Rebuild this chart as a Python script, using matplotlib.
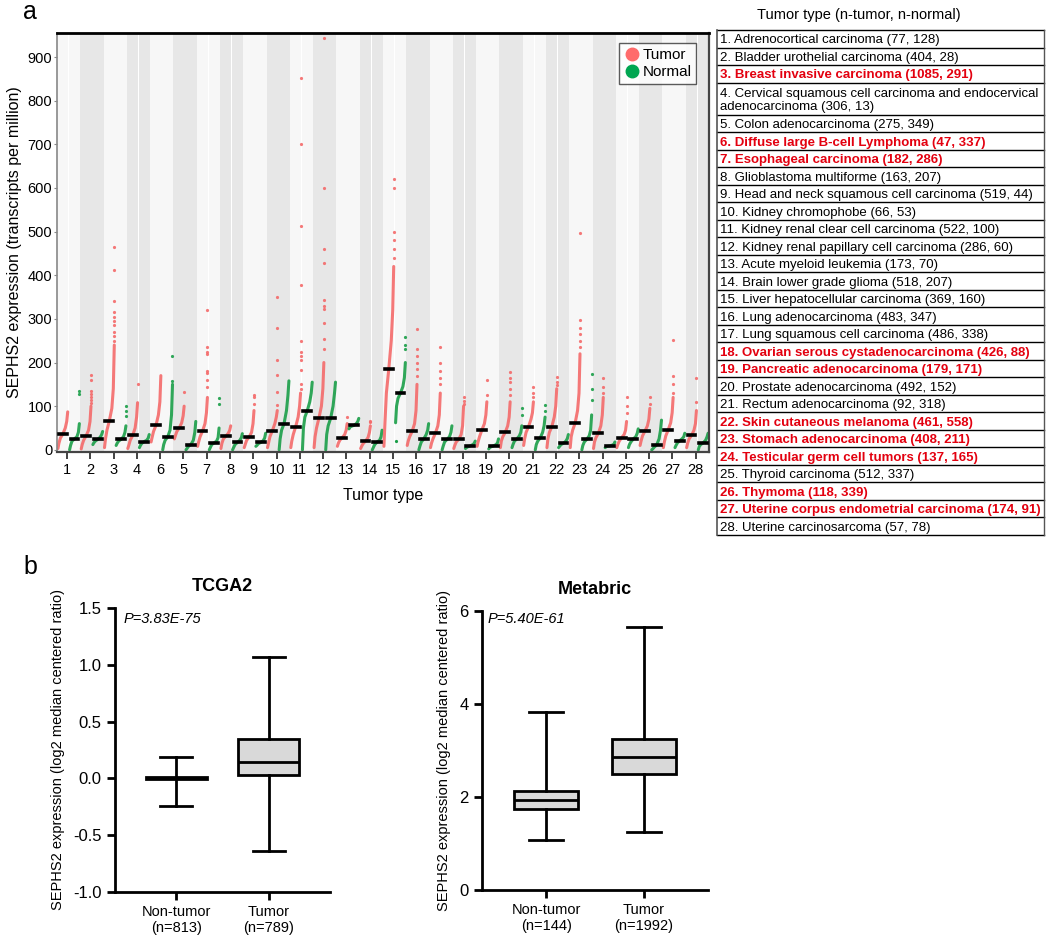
import matplotlib
matplotlib.use("Agg")
import matplotlib.pyplot as plt
from matplotlib.lines import Line2D
import numpy as np

plt.rcParams['font.family'] = ['Liberation Sans', 'DejaVu Sans']

# ---------------- panel a data ----------------
tick_labels = ["1", "2", "3", "4", "6", "5", "7", "8", "9", "10", "11", "12", "13", "14",
               "15", "16", "17", "18", "19", "20", "21", "22", "23", "24", "25", "26", "27", "28"]

# value of the sorted curve at these fractions of each column
levels = [0, 0.1, 0.25, 0.5, 0.75, 0.9, 1.0]

tumor_body = [
    [3, 15, 27, 36, 50, 65, 87], [2, 12, 22, 32, 45, 65, 100], [5, 25, 45, 67, 95, 140, 240],
    [3, 10, 22, 33, 50, 75, 108], [18, 28, 42, 56, 80, 110, 170], [25, 32, 42, 50, 62, 78, 100],
    [8, 18, 30, 43, 60, 85, 120], [3, 15, 25, 31, 38, 45, 55], [5, 12, 22, 29, 40, 60, 90],
    [5, 15, 30, 44, 60, 75, 90], [5, 20, 35, 53, 75, 100, 130], [5, 30, 50, 73, 100, 140, 200],
    [8, 15, 22, 28, 35, 45, 60], [3, 8, 14, 20, 28, 40, 55], [8, 60, 130, 186, 250, 320, 420],
    [10, 20, 30, 42, 60, 90, 150], [5, 15, 25, 38, 55, 80, 130], [3, 10, 18, 24, 35, 55, 100],
    [8, 18, 30, 46, 60, 80, 110], [5, 20, 30, 40, 55, 75, 110], [10, 25, 40, 53, 70, 85, 110],
    [5, 25, 40, 53, 75, 100, 140], [5, 30, 45, 61, 90, 130, 220], [3, 18, 28, 38, 55, 80, 120],
    [5, 12, 20, 28, 35, 45, 65], [10, 20, 32, 43, 55, 70, 95], [5, 18, 32, 46, 62, 85, 120],
    [5, 15, 25, 33, 45, 60, 90],
]
tumor_tail = [
    [], [108, 115, 122, 128, 134, 160, 172], [250, 260, 270, 285, 295, 305, 315, 340, 413, 464],
    [150], [], [132], [145, 160, 175, 180, 220, 225, 235, 320], [], [105, 120, 125],
    [103, 133, 172, 205, 278, 350], [140, 150, 183, 205, 215, 225, 250, 377, 513, 700, 853],
    [230, 255, 290, 322, 330, 343, 427, 460, 601, 944], [75], [64, 66],
    [440, 460, 480, 500, 600, 620], [170, 185, 200, 215, 230, 277], [150, 165, 180, 200, 236],
    [105, 112, 122], [125, 160], [125, 140, 155, 165, 179], [120, 130, 143], [148, 155, 166],
    [235, 250, 265, 280, 297, 496], [130, 145, 165], [85, 100, 121], [105, 121],
    [130, 150, 168, 252], [110, 164],
]
normal_body = [
    [0, 10, 20, 25, 30, 40, 60], [12, 16, 20, 24, 29, 35, 42], [10, 15, 20, 24, 30, 40, 55],
    [5, 10, 15, 19, 22, 27, 35], [0, 12, 22, 29, 45, 80, 150], [0, 3, 8, 12, 22, 40, 65],
    [0, 5, 12, 16, 20, 28, 50], [0, 5, 12, 17, 22, 28, 37], [8, 10, 14, 17, 21, 27, 38],
    [0, 25, 45, 60, 90, 125, 158], [0, 50, 75, 90, 110, 130, 155], [0, 35, 55, 72, 100, 130, 155],
    [48, 52, 54, 56, 60, 65, 72], [0, 5, 12, 18, 22, 30, 45], [62, 100, 118, 130, 145, 165, 200],
    [0, 8, 18, 25, 35, 45, 60], [0, 8, 18, 24, 30, 40, 55], [3, 5, 7, 9, 12, 15, 20],
    [2, 5, 7, 9, 12, 16, 25], [5, 12, 20, 25, 32, 40, 55], [0, 12, 20, 27, 40, 55, 75],
    [5, 8, 12, 15, 20, 26, 35], [0, 10, 18, 24, 32, 45, 80], [5, 7, 8, 9, 11, 13, 18],
    [5, 12, 18, 25, 30, 38, 48], [0, 2, 6, 11, 25, 45, 68], [5, 10, 16, 21, 26, 30, 38],
    [0, 8, 12, 16, 22, 30, 38],
]
normal_tail = [
    [128, 134], [], [78, 88, 100], [], [158, 215], [], [106, 119], [], [], [], [], [], [], [],
    [232, 240, 258], [], [], [], [], [80, 95], [90, 103], [], [115, 139, 174], [], [], [], [], [],
]
normal_low = [[] for _ in range(14)] + [[21]] + [[] for _ in range(13)]

table_rows = [
    "1. Adrenocortical carcinoma (77, 128)",
    "2. Bladder urothelial carcinoma (404, 28)",
    "3. Breast invasive carcinoma (1085, 291)",
    "4. Cervical squamous cell carcinoma and endocervical\nadenocarcinoma (306, 13)",
    "5. Colon adenocarcinoma (275, 349)",
    "6. Diffuse large B-cell Lymphoma (47, 337)",
    "7. Esophageal carcinoma (182, 286)",
    "8. Glioblastoma multiforme (163, 207)",
    "9. Head and neck squamous cell carcinoma (519, 44)",
    "10. Kidney chromophobe (66, 53)",
    "11. Kidney renal clear cell carcinoma (522, 100)",
    "12. Kidney renal papillary cell carcinoma (286, 60)",
    "13. Acute myeloid leukemia (173, 70)",
    "14. Brain lower grade glioma (518, 207)",
    "15. Liver hepatocellular carcinoma (369, 160)",
    "16. Lung adenocarcinoma (483, 347)",
    "17. Lung squamous cell carcinoma (486, 338)",
    "18. Ovarian serous cystadenocarcinoma (426, 88)",
    "19. Pancreatic adenocarcinoma (179, 171)",
    "20. Prostate adenocarcinoma (492, 152)",
    "21. Rectum adenocarcinoma (92, 318)",
    "22. Skin cutaneous melanoma (461, 558)",
    "23. Stomach adenocarcinoma (408, 211)",
    "24. Testicular germ cell tumors (137, 165)",
    "25. Thyroid carcinoma (512, 337)",
    "26. Thymoma (118, 339)",
    "27. Uterine corpus endometrial carcinoma (174, 91)",
    "28. Uterine carcinosarcoma (57, 78)",
]
highlight = [3, 6, 7, 18, 19, 22, 23, 24, 26, 27]

# ---------------- panel b data ----------------
box_labels_tcga = ["Non-tumor\n(n=813)", "Tumor\n(n=789)"]
tcga_med = [0.0, 0.14]
tcga_q1 = [-0.008, 0.032]
tcga_q3 = [0.01, 0.348]
tcga_lo = [-0.24, -0.635]
tcga_hi = [0.19, 1.067]

box_labels_meta = ["Non-tumor\n(n=144)", "Tumor\n(n=1992)"]
meta_med = [1.93, 2.85]
meta_q1 = [1.75, 2.5]
meta_q3 = [2.13, 3.25]
meta_lo = [1.07, 1.25]
meta_hi = [3.83, 5.65]

RED = '#f46a6a'
GREEN = '#1a9e48'

fig = plt.figure(figsize=(10.5, 9.35), dpi=100)

# ---------------- panel a ----------------
ax = fig.add_axes([57/1050, 1-452/935, (709-57)/1050, (452-33)/935])
for i in range(1, 29):
    bg = '#f7f7f7' if i % 2 else '#e7e7e7'
    ax.axvspan(i-0.5, i-0.01, color=bg, lw=0, zorder=0)
    ax.axvspan(i+0.01, i+0.5, color=bg, lw=0, zorder=0)

hw = 0.21
lv = np.array(levels)
for k in range(28):
    pos = k + 1
    for c, body, tail, col in [(pos-0.25, tumor_body[k], tumor_tail[k], RED),
                               (pos+0.25, normal_body[k], normal_tail[k], GREEN)]:
        xs = c - hw + lv*2*hw
        ax.plot(xs, body, color=col, lw=2.2, alpha=0.9, solid_capstyle='round', zorder=2)
        if tail:
            ax.plot([c+hw]*len(tail), tail, 'o', color=col, ms=2.3, mew=0, alpha=0.9, zorder=2)
        ax.plot([c-0.17, c+0.17], [body[3], body[3]], color='black', lw=2.6, zorder=3)
    if normal_low[k]:
        ax.plot([pos+0.25-hw]*len(normal_low[k]), normal_low[k], 'o', color=GREEN, ms=2.3, mew=0)

ax.set_xlim(0.5, 28.5)
ax.set_ylim(-5, 955)
ax.set_xticks(np.arange(1, 29) - 0.07)
ax.set_xticklabels(tick_labels, fontsize=10.5)
ax.set_yticks(range(0, 1000, 100))
ax.tick_params(axis='y', length=2.5, color='#888888', labelsize=10.5, pad=1)
ax.tick_params(axis='x', length=5, width=1.2, color='#222222', pad=3)
ax.spines['top'].set_linewidth(2.0)
ax.spines['top'].set_color('black')
ax.spines['left'].set_color('#888888')
ax.spines['left'].set_linewidth(1.2)
for s in ['bottom', 'right']:
    ax.spines[s].set_color('#444444')
    ax.spines[s].set_linewidth(1.6)
ax.set_xlabel("Tumor type", fontsize=11.5, labelpad=8)
ax.set_ylabel("SEPHS2 expression (transcripts per million)", fontsize=11.5, labelpad=4)

handles = [Line2D([], [], marker='o', ls='', color='#ff6b6b', ms=9),
           Line2D([], [], marker='o', ls='', color='#00a651', ms=9)]
leg = ax.legend(handles, ["Tumor", "Normal"], loc='upper right', bbox_to_anchor=(0.98, 0.975),
                fontsize=11, frameon=True, fancybox=False, handletextpad=0.2,
                borderpad=0.3, labelspacing=0.2, handlelength=1.0, borderaxespad=0)
leg.get_frame().set_edgecolor('#333333')
leg.get_frame().set_linewidth(1.0)

fig.text(23/1050, 1-12/935, "a", fontsize=18, va='center', ha='left')

# table
fig.text(859/1050, 1-15/935, "Tumor type (n-tumor, n-normal)", fontsize=10.5, ha='center', va='center')
tab = fig.add_axes([717/1050, 1-535/935, (1044-717)/1050, (535-30)/935])
tab.set_xlim(0, 1)
heights = [1.85 if '\n' in r else 1.0 for r in table_rows]
total = sum(heights)
tab.set_ylim(total, 0)
tab.axis('off')
y = 0
tab.plot([0, 1], [0, 0], color='black', lw=1.0, clip_on=False)
for n, (r, h) in enumerate(zip(table_rows, heights), start=1):
    hot = n in highlight
    tab.text(0.008, y + h/2 + 0.08, r, fontsize=9.5, va='center', ha='left',
             color='#e3000f' if hot else 'black', fontweight='bold' if hot else 'normal',
             linespacing=1.1)
    y += h
    tab.plot([0, 1], [y, y], color='black', lw=1.0, clip_on=False)
tab.plot([0, 0], [0, total], color='#555555', lw=1.2, clip_on=False)
tab.plot([1, 1], [0, total], color='#555555', lw=1.0, clip_on=False)

# ---------------- panel b ----------------
fig.text(23/1050, 1-567/935, "b", fontsize=18, va='center', ha='left')


def draw_box(axb, med, q1, q3, lo, hi, labels, title, ptxt, px, py):
    stats = [dict(med=med[j], q1=q1[j], q3=q3[j], whislo=lo[j], whishi=hi[j], fliers=[])
             for j in range(2)]
    axb.bxp(stats, positions=[1, 2], widths=0.66, capwidths=0.35, patch_artist=True,
            showfliers=False,
            boxprops=dict(facecolor='#d9d9d9', edgecolor='black', linewidth=2),
            medianprops=dict(color='black', linewidth=2),
            whiskerprops=dict(color='black', linewidth=2),
            capprops=dict(color='black', linewidth=2))
    axb.set_xlim(0.34, 2.66)
    axb.set_xticks([1, 2])
    axb.set_xticklabels(labels, fontsize=10.5)
    for s in ['top', 'right']:
        axb.spines[s].set_visible(False)
    for s in ['left', 'bottom']:
        axb.spines[s].set_linewidth(2)
    axb.tick_params(width=2, length=6)
    axb.tick_params(axis='y', labelsize=12)
    axb.set_title(title, fontsize=13, fontweight='bold', pad=12)
    axb.set_ylabel("SEPHS2 expression (log2 median centered ratio)", fontsize=10.5, labelpad=6)
    axb.text(px, py, ptxt, transform=axb.transAxes, style='italic', fontsize=10.5, va='top')


ax1 = fig.add_axes([115/1050, 1-892/935, (330-115)/1050, (892-608)/935])
draw_box(ax1, tcga_med, tcga_q1, tcga_q3, tcga_lo, tcga_hi, box_labels_tcga,
         "TCGA2", "P=3.83E-75", 0.04, 0.985)
ax1.set_ylim(-1.0, 1.5)
ax1.set_yticks([-1.0, -0.5, 0.0, 0.5, 1.0, 1.5])
ax1.set_yticklabels(["-1.0", "-0.5", "0.0", "0.5", "1.0", "1.5"])

ax2 = fig.add_axes([482/1050, 1-890/935, (708-482)/1050, (890-611)/935])
draw_box(ax2, meta_med, meta_q1, meta_q3, meta_lo, meta_hi, box_labels_meta,
         "Metabric", "P=5.40E-61", 0.025, 0.995)
ax2.set_ylim(0, 6)
ax2.set_yticks([0, 2, 4, 6])

fig.savefig("out.png", dpi=100)
